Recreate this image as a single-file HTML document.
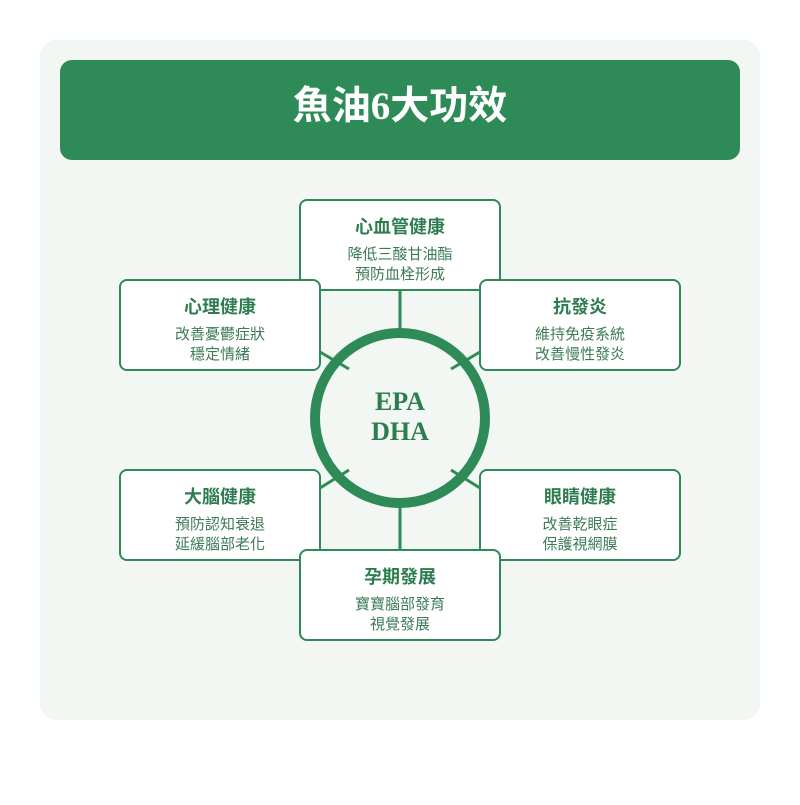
<!DOCTYPE html>
<html><head><meta charset="utf-8"><style>
body{margin:0;width:800px;height:800px;background:#fff;overflow:hidden}
svg text{font-family:"Liberation Serif","Noto Sans CJK TC",sans-serif}
.t{font-family:"Liberation Sans","Noto Sans CJK TC",sans-serif;font-weight:bold;font-size:18px;fill:#2e7d4f}
.s{font-family:"Liberation Sans","Noto Sans CJK TC",sans-serif;font-size:15px;fill:#3d7a56}
</style></head><body>
<svg width="800" height="800" xmlns="http://www.w3.org/2000/svg">
<rect x="40" y="40" width="720" height="680" rx="16" fill="#f2f7f3"/>
<rect x="60" y="60" width="680" height="100" rx="12" fill="#2e8b57"/>
<text x="400" y="119" text-anchor="middle" font-size="39" font-weight="bold" fill="#fff">魚油6大功效</text>
<g stroke="#2e8b57" stroke-width="3">
<line x1="400" y1="290" x2="400" y2="334"/>
<line x1="400" y1="502" x2="400" y2="550"/>
<line x1="320" y1="352" x2="349" y2="369"/>
<line x1="480" y1="352" x2="451" y2="369"/>
<line x1="320" y1="488" x2="349" y2="470"/>
<line x1="480" y1="488" x2="451" y2="470"/>
</g>
<circle cx="400" cy="418" r="85" fill="none" stroke="#2e8b57" stroke-width="10"/>
<text x="400" y="410" text-anchor="middle" font-size="26" font-weight="bold" fill="#2e7d4f">EPA</text>
<text x="400" y="440" text-anchor="middle" font-size="26" font-weight="bold" fill="#2e7d4f">DHA</text>
<g fill="#fff" stroke="#2e8b57" stroke-width="2">
<rect x="300" y="200" width="200" height="90" rx="7"/>
<rect x="120" y="280" width="200" height="90" rx="7"/>
<rect x="480" y="280" width="200" height="90" rx="7"/>
<rect x="120" y="470" width="200" height="90" rx="7"/>
<rect x="480" y="470" width="200" height="90" rx="7"/>
<rect x="300" y="550" width="200" height="90" rx="7"/>
</g>
<g text-anchor="middle">
<text class="t" x="400" y="233">心血管健康</text><text class="s" x="400" y="259">降低三酸甘油酯</text><text class="s" x="400" y="279">預防血栓形成</text>
<text class="t" x="220" y="313">心理健康</text><text class="s" x="220" y="339">改善憂鬱症狀</text><text class="s" x="220" y="359">穩定情緒</text>
<text class="t" x="580" y="313">抗發炎</text><text class="s" x="580" y="339">維持免疫系統</text><text class="s" x="580" y="359">改善慢性發炎</text>
<text class="t" x="220" y="503">大腦健康</text><text class="s" x="220" y="529">預防認知衰退</text><text class="s" x="220" y="549">延緩腦部老化</text>
<text class="t" x="580" y="503">眼睛健康</text><text class="s" x="580" y="529">改善乾眼症</text><text class="s" x="580" y="549">保護視網膜</text>
<text class="t" x="400" y="583">孕期發展</text><text class="s" x="400" y="609">寶寶腦部發育</text><text class="s" x="400" y="629">視覺發展</text>
</g>
</svg>
</body></html>
